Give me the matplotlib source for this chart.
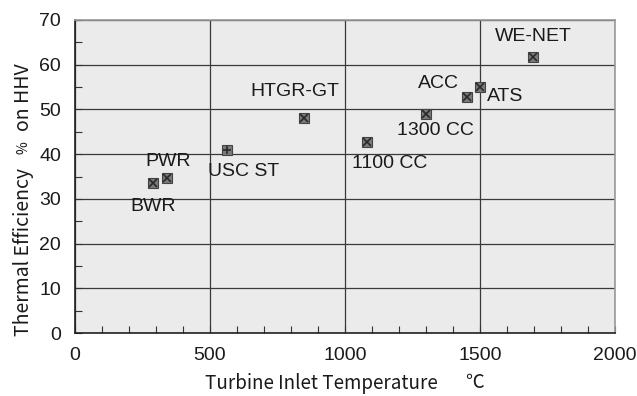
import matplotlib
matplotlib.use("Agg")
import matplotlib.pyplot as plt
from matplotlib.ticker import MultipleLocator

# data
names = ["BWR", "PWR", "USC ST", "HTGR-GT", "1100 CC", "1300 CC", "ACC", "ATS", "WE-NET"]
temps = [289, 340, 563, 848, 1081, 1300, 1452, 1500, 1697]
effs = [33.5, 34.6, 41.0, 48.1, 42.7, 49.0, 52.8, 55.0, 61.7]
# where each label's left edge / vertical centre sits
label_x = [204, 259, 493, 648, 1026, 1193, 1270, 1526, 1556]
label_y = [28.2, 38.3, 36.2, 53.9, 38.0, 45.2, 55.7, 52.8, 66.2]

TICK_FONT = ["Liberation Sans", "DejaVu Sans"]
LABEL_FONT = ["Noto Sans CJK JP", "DejaVu Sans"]
W, H = 637, 396

fig = plt.figure(figsize=(6.37, 3.96), dpi=100)
ax = fig.add_axes([75 / W, 1 - 333 / H, 540 / W, 313 / H])
ax.set_facecolor("#ebebeb")

ax.set_xlim(0, 2000)
ax.set_ylim(0, 70)
ax.xaxis.set_major_locator(MultipleLocator(500))
ax.xaxis.set_minor_locator(MultipleLocator(100))
ax.yaxis.set_major_locator(MultipleLocator(10))
ax.yaxis.set_minor_locator(MultipleLocator(5))
ax.grid(True, which="major", color="#3a3a3a", lw=0.9)
ax.set_axisbelow(True)
ax.tick_params(which="both", direction="in", length=5, width=0.8, color="#333333",
               top=False, right=False)
ax.tick_params(axis="x", pad=10)
ax.tick_params(axis="y", pad=10)
for lab in ax.get_xticklabels() + ax.get_yticklabels():
    lab.set_family(TICK_FONT)
    lab.set_fontsize(14)
    lab.set_color("#1a1a1a")

for side in ["left", "bottom"]:
    ax.spines[side].set_color("#222222")
    ax.spines[side].set_linewidth(1.2)
for side in ["top", "right"]:
    ax.spines[side].set_color("#999999")
    ax.spines[side].set_linewidth(1.2)

# square markers with a cross, USC ST gets a plus
for name, t, e in zip(names, temps, effs):
    ax.plot(t, e, marker="s", ms=7, mfc="#7a7a7a", mec="#444444", mew=0.8,
            ls="none", zorder=3)
    inner = "+" if name == "USC ST" else "x"
    ax.plot(t, e, marker=inner, ms=6, mec="#2a2a2a", mew=1.2, ls="none", zorder=4)

for name, lx, ly in zip(names, label_x, label_y):
    ax.text(lx, ly, name, ha="left", va="center", fontsize=14,
            family=TICK_FONT, color="#1a1a1a", zorder=5)

# axis titles placed by hand, the % sign is set smaller as in the original
fig.text(205 / W, 1 - 383 / H, "Turbine Inlet Temperature", ha="left", va="center",
         fontsize=13.5, family=LABEL_FONT, color="#1a1a1a")
fig.text(475 / W, 1 - 383 / H, "\u2103", ha="center", va="center",
         fontsize=13.5, family=LABEL_FONT, color="#1a1a1a")
fig.text(24 / W, 1 - 252 / H, "Thermal Efficiency", ha="center", va="center",
         rotation=90, fontsize=14, family=LABEL_FONT, color="#1a1a1a")
fig.text(24 / W, 1 - 148 / H, "%", ha="center", va="center",
         rotation=90, fontsize=10, family=LABEL_FONT, color="#1a1a1a")
fig.text(24 / W, 1 - 97 / H, "on HHV", ha="center", va="center",
         rotation=90, fontsize=14, family=LABEL_FONT, color="#1a1a1a")

fig.savefig("out.png", dpi=100)
